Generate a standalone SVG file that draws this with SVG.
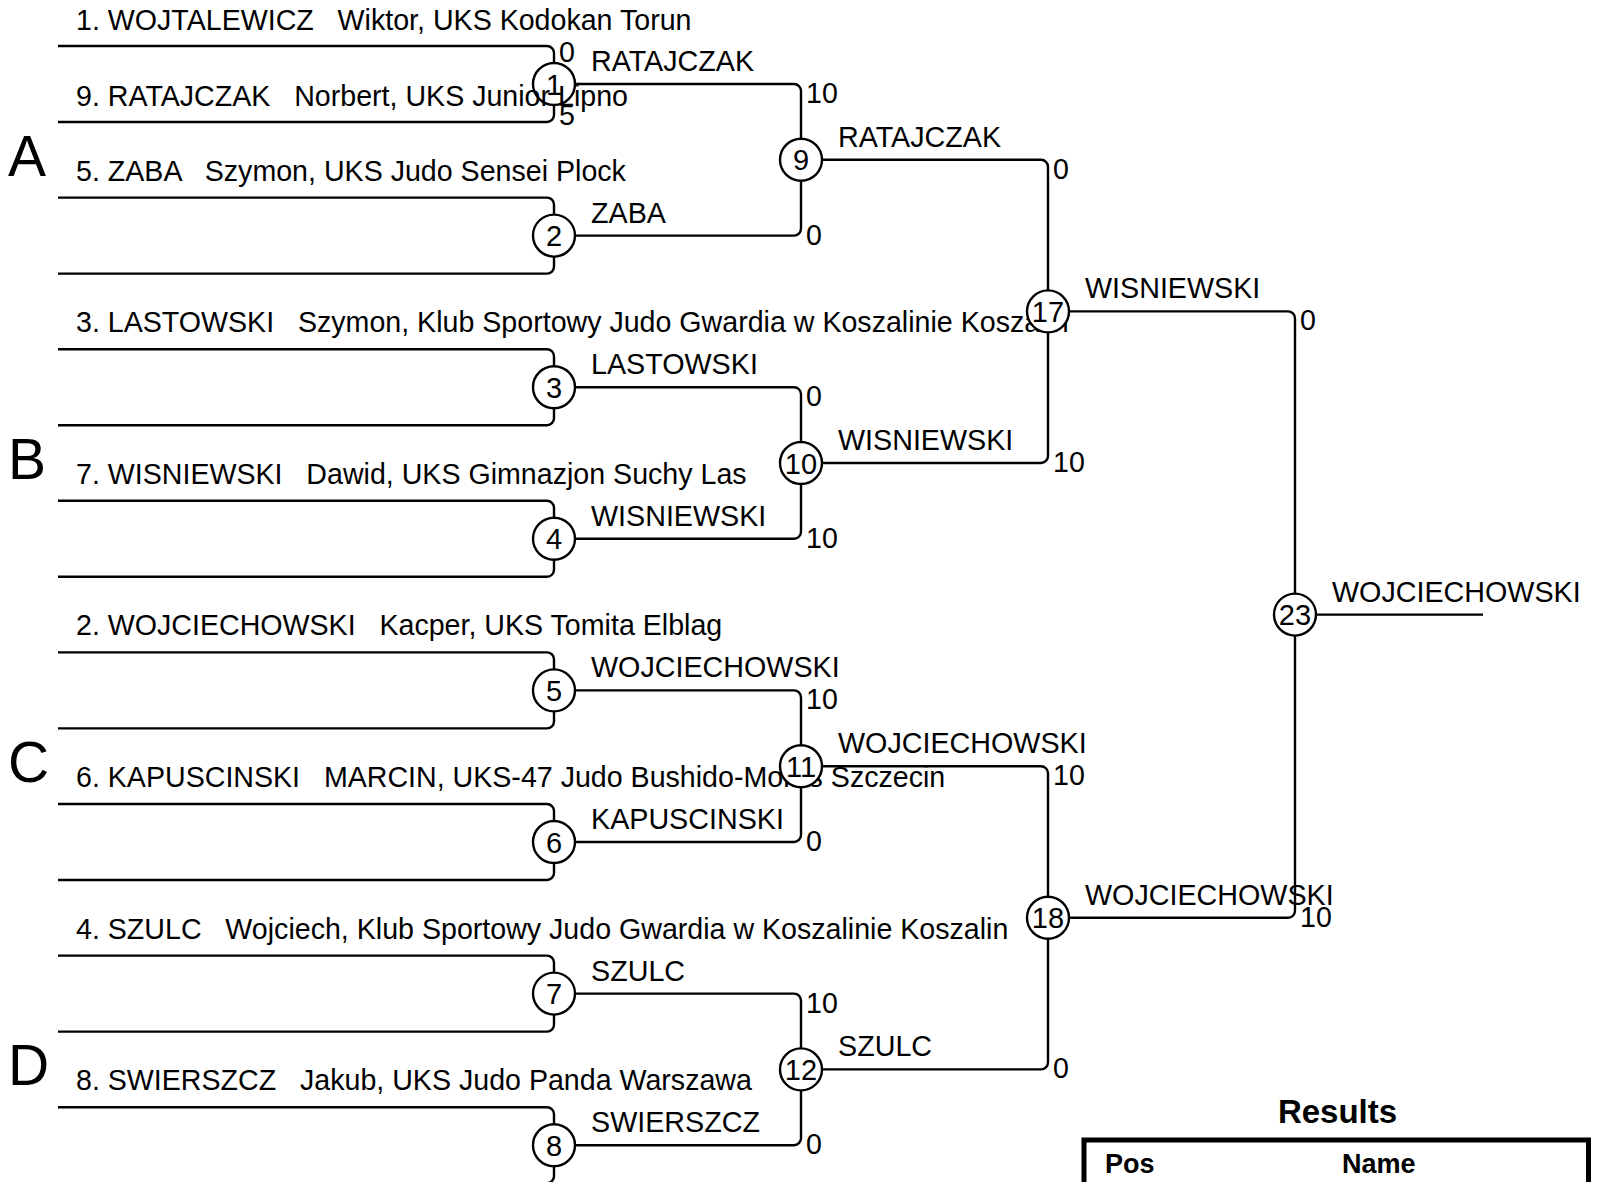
<svg xmlns="http://www.w3.org/2000/svg" width="1599" height="1182" viewBox="0 0 1599 1182">
<style>
text{font-family:"Liberation Sans",Arial,sans-serif;fill:#000}
.nm{font-size:28.6px}
.lb{font-size:28.7px}
.sc{font-size:28.6px}
.num{font-size:29px;text-anchor:middle}
.sec{font-size:57px}
.ln{fill:none;stroke:#000;stroke-width:2.4}
.cir{fill:#fff;stroke:#000;stroke-width:2.4}
.hd{font-size:33px;font-weight:bold;text-anchor:middle}
.th{font-size:27px;font-weight:bold}
</style>
<rect width="1599" height="1182" fill="#fff"/>
<g id="connectors" class="ln">
<path d="M58 46H547A7 7 0 0 1 554 53V63M58 122H547A7 7 0 0 0 554 115V105"/>
<path d="M58 197.6H547A7 7 0 0 1 554 204.6V214.6M58 273.6H547A7 7 0 0 0 554 266.6V256.6"/>
<path d="M58 349.2H547A7 7 0 0 1 554 356.2V366.2M58 425.2H547A7 7 0 0 0 554 418.2V408.2"/>
<path d="M58 500.8H547A7 7 0 0 1 554 507.8V517.8M58 576.8H547A7 7 0 0 0 554 569.8V559.8"/>
<path d="M58 652.4H547A7 7 0 0 1 554 659.4V669.4M58 728.4H547A7 7 0 0 0 554 721.4V711.4"/>
<path d="M58 804H547A7 7 0 0 1 554 811V821M58 880H547A7 7 0 0 0 554 873V863"/>
<path d="M58 955.6H547A7 7 0 0 1 554 962.6V972.6M58 1031.6H547A7 7 0 0 0 554 1024.6V1014.6"/>
<path d="M58 1107.2H547A7 7 0 0 1 554 1114.2V1124.2M58 1183.2H547A7 7 0 0 0 554 1176.2V1166.2"/>
<path d="M575 84H794A7 7 0 0 1 801 91V138.8M575 235.6H794A7 7 0 0 0 801 228.6V180.8"/>
<path d="M575 387.2H794A7 7 0 0 1 801 394.2V442M575 538.8H794A7 7 0 0 0 801 531.8V484"/>
<path d="M575 690.4H794A7 7 0 0 1 801 697.4V745.2M575 842H794A7 7 0 0 0 801 835V787.2"/>
<path d="M575 993.6H794A7 7 0 0 1 801 1000.6V1048.4M575 1145.2H794A7 7 0 0 0 801 1138.2V1090.4"/>
<path d="M822 159.8H1041A7 7 0 0 1 1048 166.8V290.4M822 463H1041A7 7 0 0 0 1048 456V332.4"/>
<path d="M822 766.2H1041A7 7 0 0 1 1048 773.2V896.8M822 1069.4H1041A7 7 0 0 0 1048 1062.4V938.8"/>
<path d="M1069 311.4H1288A7 7 0 0 1 1295 318.4V593.6M1069 917.8H1288A7 7 0 0 0 1295 910.8V635.6"/>
<path d="M1316 614.6H1483"/>
</g>
<g id="sections">
<text class="sec" x="8" y="175.5">A</text>
<text class="sec" x="8" y="478.7">B</text>
<text class="sec" x="8" y="781.9">C</text>
<text class="sec" x="8" y="1085.1">D</text>
</g>
<g id="match-1"><circle class="cir" cx="554" cy="84" r="21"/><text class="num" x="554" y="94.5">1</text></g>
<g id="match-2"><circle class="cir" cx="554" cy="235.6" r="21"/><text class="num" x="554" y="246.1">2</text></g>
<g id="match-3"><circle class="cir" cx="554" cy="387.2" r="21"/><text class="num" x="554" y="397.7">3</text></g>
<g id="match-4"><circle class="cir" cx="554" cy="538.8" r="21"/><text class="num" x="554" y="549.3">4</text></g>
<g id="match-5"><circle class="cir" cx="554" cy="690.4" r="21"/><text class="num" x="554" y="700.9">5</text></g>
<g id="match-6"><circle class="cir" cx="554" cy="842" r="21"/><text class="num" x="554" y="852.5">6</text></g>
<g id="match-7"><circle class="cir" cx="554" cy="993.6" r="21"/><text class="num" x="554" y="1004.1">7</text></g>
<g id="match-8"><circle class="cir" cx="554" cy="1145.2" r="21"/><text class="num" x="554" y="1155.7">8</text></g>
<g id="players" class="nm">
<g id="player-1"><text class="nm" x="76" y="30" xml:space="preserve">1. WOJTALEWICZ   Wiktor, UKS Kodokan Torun</text></g>
<g id="player-9"><text class="nm" x="76" y="106" xml:space="preserve">9. RATAJCZAK   Norbert, UKS Junior Lipno</text></g>
<g id="player-5"><text class="nm" x="76" y="180.6" xml:space="preserve">5. ZABA   Szymon, UKS Judo Sensei Plock</text></g>
<g id="player-3"><text class="nm" x="76" y="332.2" xml:space="preserve">3. LASTOWSKI   Szymon, Klub Sportowy Judo Gwardia w Koszalinie Koszalin</text></g>
<g id="player-7"><text class="nm" x="76" y="483.8" xml:space="preserve">7. WISNIEWSKI   Dawid, UKS Gimnazjon Suchy Las</text></g>
<g id="player-2"><text class="nm" x="76" y="635.4" xml:space="preserve">2. WOJCIECHOWSKI   Kacper, UKS Tomita Elblag</text></g>
<g id="player-6"><text class="nm" x="76" y="787" xml:space="preserve">6. KAPUSCINSKI   MARCIN, UKS-47 Judo Bushido-Morus Szczecin</text></g>
<g id="player-4"><text class="nm" x="76" y="938.6" xml:space="preserve">4. SZULC   Wojciech, Klub Sportowy Judo Gwardia w Koszalinie Koszalin</text></g>
<g id="player-8"><text class="nm" x="76" y="1090.2" xml:space="preserve">8. SWIERSZCZ   Jakub, UKS Judo Panda Warszawa</text></g>
</g>
<g id="match-9"><circle class="cir" cx="801" cy="159.8" r="21"/><text class="num" x="801" y="170.3">9</text></g>
<g id="match-10"><circle class="cir" cx="801" cy="463" r="21"/><text class="num" x="801" y="473.5">10</text></g>
<g id="match-11"><circle class="cir" cx="801" cy="766.2" r="21"/><text class="num" x="801" y="776.7">11</text></g>
<g id="match-12"><circle class="cir" cx="801" cy="1069.4" r="21"/><text class="num" x="801" y="1079.9">12</text></g>
<g id="match-17"><circle class="cir" cx="1048" cy="311.4" r="21"/><text class="num" x="1048" y="321.9">17</text></g>
<g id="match-18"><circle class="cir" cx="1048" cy="917.8" r="21"/><text class="num" x="1048" y="928.3">18</text></g>
<g id="match-23"><circle class="cir" cx="1295" cy="614.6" r="21"/><text class="num" x="1295" y="625.1">23</text></g>
<g id="winners" class="lb">
<text class="lb" x="591" y="71">RATAJCZAK</text>
<text class="lb" x="591" y="222.6">ZABA</text>
<text class="lb" x="591" y="374.2">LASTOWSKI</text>
<text class="lb" x="591" y="525.8">WISNIEWSKI</text>
<text class="lb" x="591" y="677.4">WOJCIECHOWSKI</text>
<text class="lb" x="591" y="829">KAPUSCINSKI</text>
<text class="lb" x="591" y="980.6">SZULC</text>
<text class="lb" x="591" y="1132.2">SWIERSZCZ</text>
<text class="lb" x="838" y="146.8">RATAJCZAK</text>
<text class="lb" x="838" y="450">WISNIEWSKI</text>
<text class="lb" x="838" y="753.2">WOJCIECHOWSKI</text>
<text class="lb" x="838" y="1056.4">SZULC</text>
<text class="lb" x="1085" y="298.4">WISNIEWSKI</text>
<text class="lb" x="1085" y="904.8">WOJCIECHOWSKI</text>
<text class="lb" x="1332" y="601.6">WOJCIECHOWSKI</text>
</g>
<g id="scores" class="sc">
<text class="sc" x="559" y="62">0</text>
<text class="sc" x="559" y="125">5</text>
<text class="sc" x="806" y="103">10</text>
<text class="sc" x="806" y="244.6">0</text>
<text class="sc" x="806" y="406.2">0</text>
<text class="sc" x="806" y="547.8">10</text>
<text class="sc" x="806" y="709.4">10</text>
<text class="sc" x="806" y="851">0</text>
<text class="sc" x="806" y="1012.6">10</text>
<text class="sc" x="806" y="1154.2">0</text>
<text class="sc" x="1053" y="178.8">0</text>
<text class="sc" x="1053" y="472">10</text>
<text class="sc" x="1053" y="785.2">10</text>
<text class="sc" x="1053" y="1078.4">0</text>
<text class="sc" x="1300" y="330.4">0</text>
<text class="sc" x="1300" y="926.8">10</text>
</g>
<g id="results">
<text class="hd" x="1337.5" y="1123">Results</text>
<rect x="1084" y="1140" width="504.5" height="100" fill="none" stroke="#000" stroke-width="5"/>
<text class="th" x="1105" y="1173">Pos</text>
<text class="th" x="1342" y="1173">Name</text>
</g>
</svg>
